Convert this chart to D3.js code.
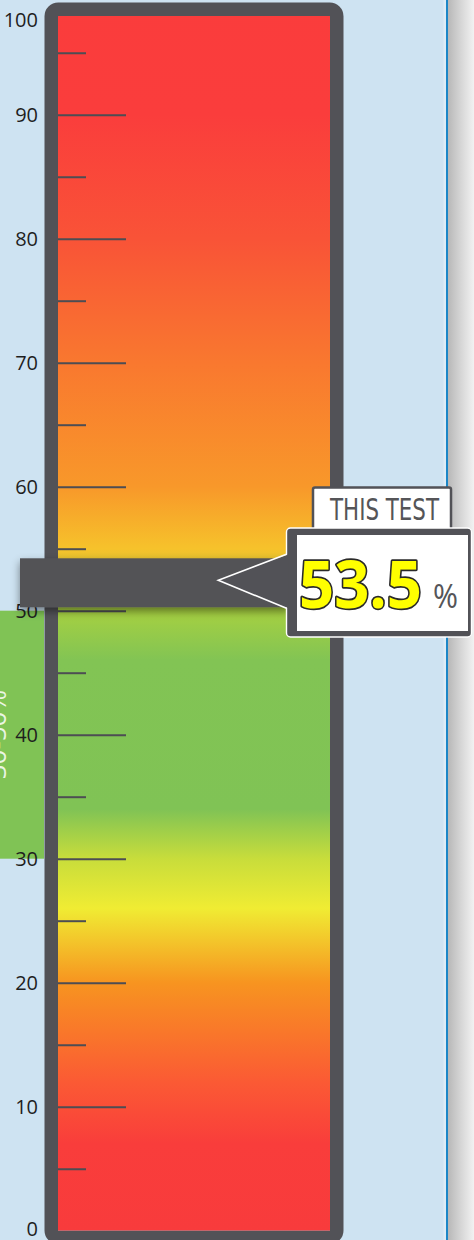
<!DOCTYPE html>
<html>
<head>
<meta charset="utf-8">
<script src="https://cdn.jsdelivr.net/npm/d3@7"></script>
<style>
  html, body { margin: 0; padding: 0; background: #cee3f2; }
  svg { display: block; }
</style>
</head>
<body>
<svg id="chart" width="474" height="1240"></svg>
<script>
// Gauge data
const testValue = 53.5;
const targetRange = [30, 50];
const targetLabel = "30-50%";
const majorTicks = [0, 10, 20, 30, 40, 50, 60, 70, 80, 90, 100];
const minorTicks = [5, 15, 25, 35, 45, 55, 65, 75, 85, 95];
const tickLabels = ["0", "10", "20", "30", "40", "50", "60", "70", "80", "90", "100"];
// Colour ramp of the tube, by scale value
const rampValues = [0, 7, 12, 20, 26, 30, 34, 46, 50, 55, 60, 70, 80, 90, 100];
const rampColors = ["#f83b3c", "#f93d3b", "#fb5a34", "#f79420", "#f0ec33", "#c8dd3b", "#80c355", "#82c454",
                    "#a6d041", "#f6c22b", "#f8982a", "#f9782f", "#f95337", "#fa3d3c", "#fa3c3c"];

const W = 474, H = 1240;
const svg = d3.select("#chart");
const defs = svg.append("defs");

const y = d3.scaleLinear().domain([0, 100]).range([1230.7, -9.3]);

// tube geometry
const tubeX0 = 58, tubeX1 = 330, tubeTop = 16;
const frameW = 13.5;
const dark = "#525257";

// background
svg.append("rect").attr("width", W).attr("height", H).attr("fill", "#cee3f2");

// right-hand page edge
const edgeGrad = defs.append("linearGradient").attr("id", "edgeGrad")
  .attr("x1", 0).attr("x2", 1).attr("y1", 0).attr("y2", 0);
edgeGrad.append("stop").attr("offset", 0).attr("stop-color", "#b8b8b8");
edgeGrad.append("stop").attr("offset", 0.5).attr("stop-color", "#d6d6d6");
edgeGrad.append("stop").attr("offset", 1).attr("stop-color", "#f2f2f2");
svg.append("rect").attr("x", 443.5).attr("y", 0).attr("width", 2.5).attr("height", H).attr("fill", "#dcebf6");
svg.append("rect").attr("x", 446).attr("y", 0).attr("width", 2).attr("height", H).attr("fill", "#1b86c7");
svg.append("rect").attr("x", 448).attr("y", 0).attr("width", W - 448).attr("height", H).attr("fill", "url(#edgeGrad)");

// target range band on the left
svg.append("rect")
  .attr("x", 0).attr("width", 44)
  .attr("y", y(targetRange[1])).attr("height", y(targetRange[0]) - y(targetRange[1]))
  .attr("fill", "#80c355");
svg.append("text")
  .attr("transform", `translate(5.5,${y((targetRange[0] + targetRange[1]) / 2)}) rotate(-90)`)
  .attr("text-anchor", "middle")
  .attr("font-family", "Open Sans")
  .attr("font-size", 26)
  .attr("fill", "#ffffff")
  .attr("fill-opacity", 0.85)
  .text(targetLabel);

// tube gradient
const tubeGrad = defs.append("linearGradient").attr("id", "tubeGrad")
  .attr("gradientUnits", "userSpaceOnUse")
  .attr("x1", 0).attr("x2", 0).attr("y1", y(0)).attr("y2", y(100));
rampValues.forEach((v, i) => {
  tubeGrad.append("stop").attr("offset", v / 100).attr("stop-color", rampColors[i]);
});

// tube fill
svg.append("rect")
  .attr("x", tubeX0).attr("y", tubeTop)
  .attr("width", tubeX1 - tubeX0).attr("height", y(0) - tubeTop)
  .attr("fill", "url(#tubeGrad)");

// tick marks inside the tube
defs.append("clipPath").attr("id", "tubeClip").append("rect")
  .attr("x", tubeX0).attr("y", tubeTop)
  .attr("width", tubeX1 - tubeX0).attr("height", y(0) - tubeTop);

const ticksG = svg.append("g").attr("clip-path", "url(#tubeClip)");
const majorAxis = ticksG.append("g").attr("transform", `translate(${tubeX0},0)`)
  .call(d3.axisRight(y).tickValues(majorTicks.filter(v => v > 0 && v < 100)).tickSize(68).tickFormat(""));
const minorAxis = ticksG.append("g").attr("transform", `translate(${tubeX0},0)`)
  .call(d3.axisRight(y).tickValues(minorTicks).tickSize(28).tickFormat(""));
[majorAxis, minorAxis].forEach(g => {
  g.select(".domain").remove();
  g.selectAll(".tick line").attr("stroke", "#4d4d53").attr("stroke-width", 2);
});

// frame around the tube
svg.append("rect")
  .attr("x", tubeX0 - frameW / 2).attr("y", tubeTop - frameW / 2)
  .attr("width", tubeX1 - tubeX0 + frameW).attr("height", y(0) - tubeTop + frameW)
  .attr("rx", 7).attr("ry", 7)
  .attr("fill", "none").attr("stroke", dark).attr("stroke-width", frameW);

// scale labels on the left
svg.append("g").selectAll("text")
  .data(majorTicks)
  .join("text")
  .attr("x", 38)
  .attr("y", d => Math.min(Math.max(y(d), 20), 1229))
  .attr("dy", "0.36em")
  .attr("text-anchor", "end")
  .attr("font-family", "Open Sans")
  .attr("font-size", 20)
  .attr("fill", "#1e1e1e")
  .text((d, i) => tickLabels[i]);

// marker band at the test value
const shadow = defs.append("filter").attr("id", "bandShadow")
  .attr("x", "-10%").attr("y", "-30%").attr("width", "130%").attr("height", "180%");
shadow.append("feDropShadow").attr("dx", 0).attr("dy", 4).attr("stdDeviation", 4)
  .attr("flood-color", "#000").attr("flood-opacity", 0.45);

const bandTop = y(testValue) - 9;
const bandH = 49;
svg.append("rect")
  .attr("x", 20).attr("y", bandTop)
  .attr("width", 270).attr("height", bandH)
  .attr("fill", dark)
  .attr("filter", "url(#bandShadow)");

// callout
const tipX = 218.3, tipY = bandTop + 22;
const boxX0 = 286.5, boxX1 = 471.5, boxY0 = 528, boxY1 = 637;

// "THIS TEST" tab
svg.append("rect")
  .attr("x", 313).attr("y", 487.5)
  .attr("width", 138).attr("height", 45)
  .attr("rx", 2)
  .attr("fill", "#ffffff").attr("stroke", dark).attr("stroke-width", 2.5);
svg.append("text")
  .attr("x", 330).attr("y", 519.5)
  .attr("font-family", "DejaVu Sans Condensed, Liberation Sans Narrow, sans-serif")
  .attr("font-size", 30)
  .attr("textLength", 109)
  .attr("lengthAdjust", "spacingAndGlyphs")
  .attr("fill", "#555558")
  .text("THIS TEST");

svg.append("rect")
  .attr("x", boxX0).attr("y", boxY0)
  .attr("width", boxX1 - boxX0).attr("height", boxY1 - boxY0)
  .attr("rx", 4)
  .attr("fill", dark).attr("stroke", "#ffffff").attr("stroke-width", 1.4);
svg.append("path")
  .attr("d", `M${tipX},${tipY} L${boxX0 + 2},${tipY - 26} L${boxX0 + 2},${tipY + 28} Z`)
  .attr("fill", dark);
svg.append("path")
  .attr("d", `M${boxX0},${tipY - 26} L${tipX},${tipY} L${boxX0},${tipY + 28}`)
  .attr("fill", "none").attr("stroke", "#ffffff").attr("stroke-width", 1.6)
  .attr("stroke-linejoin", "miter");
svg.append("rect")
  .attr("x", 297).attr("y", 535)
  .attr("width", 171).attr("height", 96)
  .attr("fill", "#ffffff");

svg.append("text")
  .attr("x", 299).attr("y", 608)
  .attr("font-family", "Open Sans")
  .attr("font-weight", 700)
  .attr("font-size", 67)
  .attr("textLength", 123)
  .attr("lengthAdjust", "spacingAndGlyphs")
  .attr("fill", "#ffff00")
  .attr("stroke", "#2a2a2a")
  .attr("stroke-width", 3.5)
  .attr("paint-order", "stroke")
  .attr("stroke-linejoin", "round")
  .text(d3.format(".1f")(testValue));
svg.append("text")
  .attr("x", 433).attr("y", 608)
  .attr("font-family", "Open Sans")
  .attr("font-weight", 400)
  .attr("font-size", 33)
  .attr("textLength", 25)
  .attr("lengthAdjust", "spacingAndGlyphs")
  .attr("fill", "#555558")
  .text("%");
</script>
</body>
</html>
